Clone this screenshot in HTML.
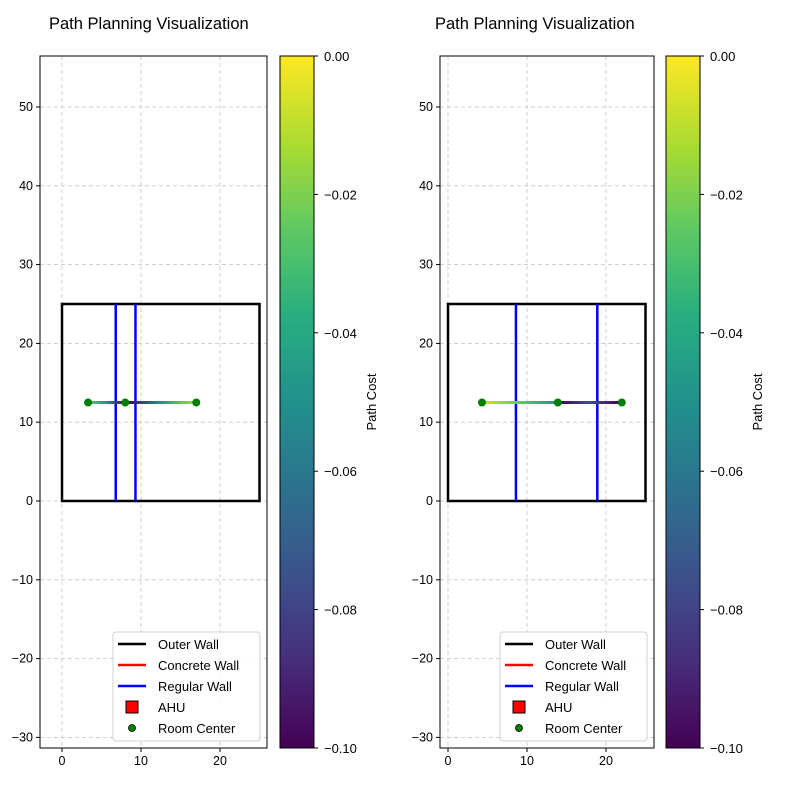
<!DOCTYPE html>
<html><head><meta charset="utf-8"><style>
body{margin:0;background:#fff}
svg{display:block;font-family:"Liberation Sans","DejaVu Sans",sans-serif}
</style></head><body>
<svg id="fig" width="787" height="787" viewBox="0 0 787 787" xmlns="http://www.w3.org/2000/svg">
<defs>
<linearGradient id="viridisV" x1="0" y1="1" x2="0" y2="0">
<stop offset="0" stop-color="#440154"/><stop offset="0.125" stop-color="#472d7b"/><stop offset="0.25" stop-color="#3b528b"/><stop offset="0.375" stop-color="#2c728e"/><stop offset="0.5" stop-color="#21918c"/><stop offset="0.625" stop-color="#28ae80"/><stop offset="0.75" stop-color="#5ec962"/><stop offset="0.875" stop-color="#addc30"/><stop offset="1" stop-color="#fde725"/>
</linearGradient>
</defs>
</svg>
<script>
// Data
const panelTitles = ["Path Planning Visualization", "Path Planning Visualization"];
const xTicks = [0, 10, 20];
const yTicks = [-30, -20, -10, 0, 10, 20, 30, 40, 50];
const cbarTicks = [0.00, -0.02, -0.04, -0.06, -0.08, -0.10];
const outerWall = [0, 0, 25, 25];
const leftWallsX = [6.8, 9.3];
const rightWallsX = [8.6, 18.9];
const leftRoomsX = [3.3, 8.0, 17.0];
const rightRoomsX = [4.3, 13.9, 22.0];
const roomY = 12.5;
const leftPathFrom = [3.3, 8.0];
const leftPathTo = [8.0, 17.0];
const leftPathColors = [["#5ec962", "#21918c", "#440154"], ["#440154", "#21918c", "#addc30"]];
const rightPathFrom = [4.3, 13.9];
const rightPathTo = [13.9, 22.0];
const rightPathColors = [["#d8e219", "#5ec962", "#21918c"], ["#440154", "#3b528b", "#440154"]];
const legendLabels = ["Outer Wall", "Concrete Wall", "Regular Wall", "AHU", "Room Center"];

const NS = "http://www.w3.org/2000/svg";
const svg = document.getElementById("fig");
function el(tag, attrs, parent) {
  const e = document.createElementNS(NS, tag);
  for (const k in attrs) e.setAttribute(k, attrs[k]);
  (parent || svg).appendChild(e);
  return e;
}
let gid = 0;
function panel(ax, walls, rooms, pFrom, pTo, pCols, title, idx) {
  const g = el("g", {});
  
  
  const X = v => ax.x0 + v * 7.9;
  const Y = v => 501 - v * 7.88;
  xTicks.forEach(t => {
    const l = el("line", {x1: X(t), x2: X(t), y1: ax.top, y2: ax.bot, stroke: "#c4c4c4", "stroke-dasharray": "4,3", "stroke-width": 0.8}, g);
    
    
    el("line", {x1: X(t), x2: X(t), y1: ax.bot, y2: ax.bot + 4, stroke: "#000"}, g);
    const tx = el("text", {x: X(t), y: ax.bot + 17, "text-anchor": "middle", "font-size": 12.5}, g);
    tx.textContent = t;
    
    
  });
  yTicks.forEach(t => {
    const l = el("line", {x1: ax.left, x2: ax.right, y1: Y(t), y2: Y(t), stroke: "#c4c4c4", "stroke-dasharray": "4,3", "stroke-width": 0.8}, g);
    
    
    el("line", {x1: ax.left - 4, x2: ax.left, y1: Y(t), y2: Y(t), stroke: "#000"}, g);
    const tx = el("text", {x: ax.left - 7, y: Y(t) + 4, "text-anchor": "end", "font-size": 12.5}, g);
    tx.textContent = t < 0 ? "\u2212" + (-t) : t;
    
    
  });
  const ow = el("rect", {x: X(outerWall[0]), y: Y(outerWall[3]), width: X(outerWall[2]) - X(outerWall[0]), height: Y(outerWall[1]) - Y(outerWall[3]), fill: "none", stroke: "#000", "stroke-width": 2.5}, g);
  
  
  walls.forEach(w => {
    const l = el("line", {x1: X(w), x2: X(w), y1: Y(25), y2: Y(0), stroke: "#0000ff", "stroke-width": 2.5}, g);
    
    
  });
  pFrom.forEach((f, i) => {
    const id = "pg" + (gid++);
    const lg = el("linearGradient", {id: id, gradientUnits: "userSpaceOnUse", x1: X(f), x2: X(pTo[i]), y1: 0, y2: 0}, svg.querySelector("defs"));
    pCols[i].forEach((c, j) => el("stop", {offset: j / (pCols[i].length - 1), "stop-color": c}, lg));
    const l = el("line", {x1: X(f), x2: X(pTo[i]), y1: Y(roomY), y2: Y(roomY), stroke: "url(#" + id + ")", "stroke-width": 3}, g);
    
    
  });
  rooms.forEach(r => {
    const c = el("circle", {cx: X(r), cy: Y(roomY), r: 4, fill: "#008000"}, g);
    
    
  });
  const fr = el("rect", {x: ax.left, y: ax.top, width: ax.right - ax.left, height: ax.bot - ax.top, fill: "none", stroke: "#000", "stroke-width": 1}, g);
  
  
  const tt = el("text", {x: ax.tx, y: 29, "font-size": 16.5}, g);
  tt.textContent = title;
  
  
  const lgd = el("g", {}, g);
  
  
  const lx = ax.right - 154;
  el("rect", {x: lx, y: 632, width: 147, height: 109, rx: 3, fill: "#fff", "fill-opacity": 0.85, stroke: "#d0d0d0"}, lgd);
  const cols = ["#000", "#ff0000", "#0000ff"];
  legendLabels.forEach((lab, i) => {
    const y = 644 + i * 21;
    if (i < 3) el("line", {x1: lx + 5, x2: lx + 33, y1: y, y2: y, stroke: cols[i], "stroke-width": 2.5}, lgd);
    else if (i === 3) el("rect", {x: lx + 13, y: y - 6, width: 12, height: 12, fill: "#ff0000", stroke: "#000"}, lgd);
    else el("circle", {cx: lx + 19, cy: y, r: 3.5, fill: "#008000", stroke: "#000", "stroke-width": 0.8}, lgd);
    const t = el("text", {x: lx + 45, y: y + 5, "font-size": 13}, lgd);
    t.textContent = lab;
    
    
  });
  const cb = el("g", {}, svg);
  
  
  el("rect", {x: ax.cb, y: ax.top, width: 34, height: ax.bot - ax.top, fill: "url(#viridisV)", stroke: "#000", "stroke-width": 1}, cb);
  cbarTicks.forEach(v => {
    const y = ax.top + (0 - v) / 0.10 * (ax.bot - ax.top);
    el("line", {x1: ax.cb + 34, x2: ax.cb + 38, y1: y, y2: y, stroke: "#000"}, cb);
    const t = el("text", {x: ax.cb + 44, y: y + 5, "font-size": 13}, cb);
    t.textContent = v === 0 ? "0.00" : "\u2212" + (-v).toFixed(2);
    
    
  });
  const lab = el("text", {x: 0, y: 0, "font-size": 13, "text-anchor": "middle", transform: "translate(" + (ax.cb + 96) + "," + ((ax.top + ax.bot) / 2) + ") rotate(-90)"}, cb);
  lab.textContent = "Path Cost";
  
  
}
panel({x0: 62, left: 40, right: 267, top: 56, bot: 748, cb: 280, tx: 49}, leftWallsX, leftRoomsX, leftPathFrom, leftPathTo, leftPathColors, panelTitles[0], 1);
panel({x0: 448, left: 440, right: 654, top: 56, bot: 748, cb: 666, tx: 435}, rightWallsX, rightRoomsX, rightPathFrom, rightPathTo, rightPathColors, panelTitles[1], 2);
</script>
</body></html>
